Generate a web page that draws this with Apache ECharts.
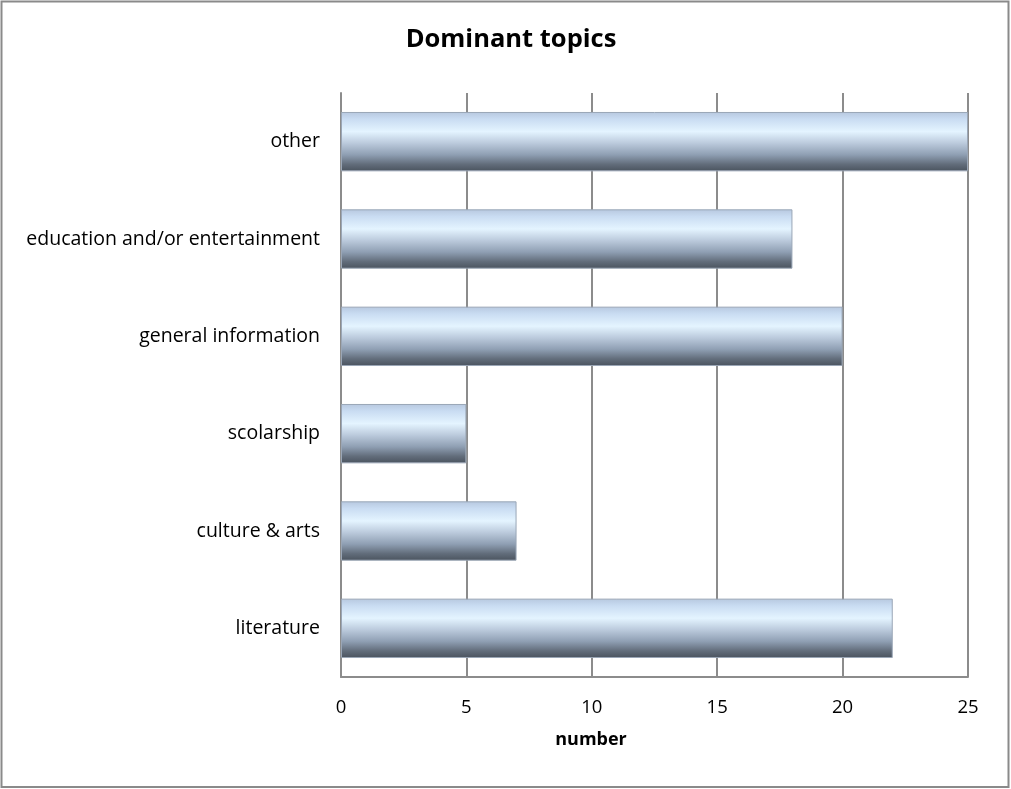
<!DOCTYPE html>
<html>
<head>
<meta charset="utf-8">
<script src="https://cdn.jsdelivr.net/npm/echarts@6/dist/echarts.min.js"></script>
<style>
  html, body { margin: 0; padding: 0; background: #fff; }
  #chart { width: 1011px; height: 789px; }
</style>
</head>
<body>
<div id="chart"></div>
<script>
// Topic categories, listed bottom to top as they appear on the axis
const categories = ['literature', 'culture & arts', 'scolarship', 'general information', 'education and/or entertainment', 'other'];
// Number of items per topic
const counts = [22, 7, 5, 20, 18, 25];
// Value axis ticks
const axisMin = 0;
const axisMax = 25;
const axisStep = 5;

const FONT = '"Open Sans", Lato, sans-serif';

// Cylinder-like shading: light band near the top, darkening toward the bottom
const barFill = new echarts.graphic.LinearGradient(0, 0, 0, 1, [
  { offset: 0.00, color: '#b7c8df' },
  { offset: 0.12, color: '#c9dcf2' },
  { offset: 0.33, color: '#e4f4ff' },
  { offset: 0.52, color: '#bccbdd' },
  { offset: 0.72, color: '#8f9fb3' },
  { offset: 0.88, color: '#626d7b' },
  { offset: 1.00, color: '#4a535e' }
]);

const chart = echarts.init(document.getElementById('chart'), null, { renderer: 'canvas' });
chart.setOption({
  backgroundColor: '#ffffff',
  animation: false,
  title: {
    text: 'Dominant topics',
    left: 506,
    top: 22,
    textAlign: 'center',
    textStyle: { fontFamily: FONT, fontWeight: 'bold', fontSize: 25.5, color: '#000' }
  },
  graphic: [{
    type: 'rect',
    shape: { x: 1.5, y: 1.5, width: 1007, height: 785.5 },
    style: { fill: 'none', stroke: '#8a8a8a', lineWidth: 2 },
    silent: true
  }],
  grid: { left: 341, right: 43, top: 93, bottom: 112, containLabel: false },
  xAxis: {
    type: 'value',
    min: axisMin,
    max: axisMax,
    interval: axisStep,
    name: 'number',
    nameLocation: 'middle',
    nameGap: 54,
    nameTextStyle: {
      fontFamily: FONT, fontWeight: 'bold', fontSize: 18, color: '#000',
      padding: [0, 127, 0, 0]
    },
    axisLine: { show: true, lineStyle: { color: '#8c8c8c', width: 2 } },
    axisTick: { show: false },
    axisLabel: { fontFamily: FONT, fontSize: 18.5, color: '#000', margin: 21 },
    splitLine: { show: true, lineStyle: { color: '#8c8c8c', width: 2 } }
  },
  yAxis: {
    type: 'category',
    data: categories,
    axisLine: { show: true, lineStyle: { color: '#8c8c8c', width: 2 } },
    axisTick: { show: false },
    axisLabel: {
      fontFamily: FONT, fontSize: 19.5, color: '#000', margin: 21,
      padding: [4, 0, 0, 0]
    },
    splitLine: { show: false }
  },
  series: [{
    type: 'bar',
    data: counts,
    barWidth: '61%',
    itemStyle: { color: barFill, borderColor: '#9aa6b6', borderWidth: 1 },
    z: 3
  }]
});
</script>
</body>
</html>
